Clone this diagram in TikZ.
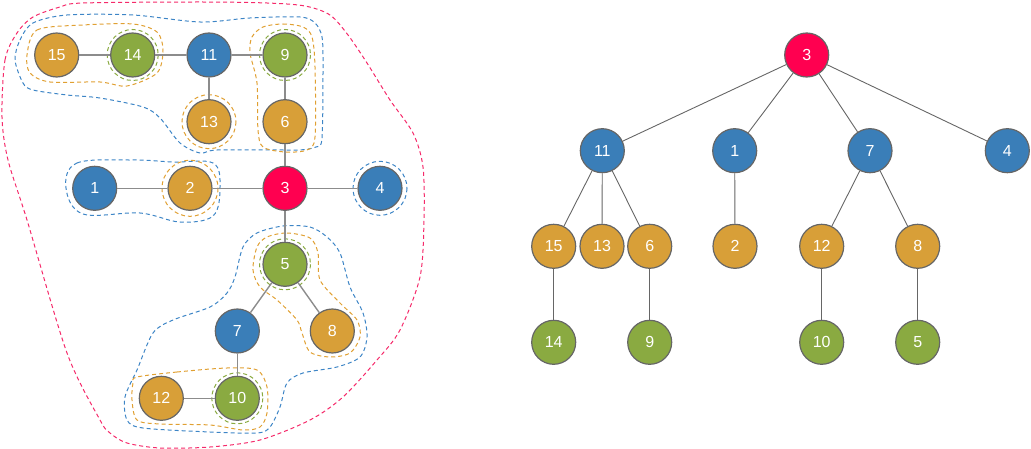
\documentclass[tikz,border=0pt]{standalone}
\usepackage{fontspec}
\setmainfont{Liberation Sans}
\definecolor{nblue}{HTML}{3A7EB8}
\definecolor{norange}{HTML}{D89F38}
\definecolor{ngreen}{HTML}{8AAA41}
\definecolor{nred}{HTML}{FF0050}
\definecolor{nborder}{HTML}{666666}
\definecolor{dblue}{HTML}{3D85C6}
\definecolor{dorange}{HTML}{E0A032}
\definecolor{dgreen}{HTML}{8AAA41}
\definecolor{dred}{HTML}{F52A6A}
\begin{document}
\begin{tikzpicture}[x=1pt,y=-1pt,
  vtx/.style={circle,draw=nborder,line width=1.2pt,minimum size=44pt,inner sep=0pt,text=white,font=\fontsize{16}{16}\selectfont},
  bv/.style={vtx,fill=nblue},
  ov/.style={vtx,fill=norange},
  gv/.style={vtx,fill=ngreen},
  rv/.style={vtx,fill=nred},
  ge/.style={draw=gray!90,line width=1.4pt},
  te/.style={draw=nborder,line width=0.9pt},
  dsh/.style={line width=1pt,dash pattern=on 4pt off 3pt},
  cred/.style={dsh,draw=dred},
  cblue/.style={dsh,draw=dblue},
  corange/.style={dsh,draw=dorange},
  cgreen/.style={dsh,draw=dgreen}]
\useasboundingbox (0,0) rectangle (1031,449);
% contours
\draw[cred] plot[smooth cycle,tension=0.5] coordinates {(2,117) (5,60) (17,33) (33,17) (60,7) (83,3) (200,2) (267,3) (305,6) (330,15) (348,35) (367,63) (390,100) (413,133) (423,167) (424,220) (420,277) (400,330) (377,360) (343,397) (310,420) (260,440) (210,447) (160,448) (127,443) (110,433) (100,420) (67,353) (27,220) (8,160)};
\draw[cblue] plot[smooth cycle,tension=0.5] coordinates {(15,60) (20,40) (33,23) (67,15) (133,15) (200,22) (250,18) (300,17) (315,23) (322,37) (323,67) (322,138) (316,147) (300,150) (283,150) (217,150) (200,153) (180,143) (160,118) (143,107) (100,98) (67,95) (33,90) (23,83)};
\draw[cblue] plot[smooth cycle,tension=0.6] coordinates {(66,188) (77,163) (133,160) (173,162) (213,163) (220,187) (213,216) (180,222) (140,213) (83,214)};
\draw[cblue] (380,188.3) circle[radius=27];
\draw[cblue] plot[smooth cycle,tension=0.5] coordinates {(283,226) (310,227) (327,237) (340,253) (350,287) (363,313) (367,337) (360,357) (337,367) (303,373) (287,383) (280,407) (270,427) (257,433) (210,432) (143,428) (127,420) (125,397) (137,370) (153,333) (173,320) (210,307) (227,293) (235,277) (243,247) (257,233)};
\draw[corange] plot[smooth cycle,tension=0.5] coordinates {(27,55) (37,30) (83,25) (133,24) (157,32) (163,50) (157,73) (127,86) (100,82) (50,82) (30,73)};
\draw[corange] (209,121.7) circle[radius=27];
\draw[corange] plot[smooth cycle,tension=0.5] coordinates {(263,27) (283,24) (303,27) (312,37) (315,67) (315,137) (307,150) (285,152) (263,147) (258,130) (257,83) (250,53) (252,37)};
\draw[corange] (190,188.3) circle[radius=28];
\draw[corange] plot[smooth cycle,tension=0.5] coordinates {(267,237) (287,233) (310,238) (318,253) (320,280) (340,303) (357,320) (360,337) (350,353) (330,357) (310,352) (302,333) (297,320) (277,300) (260,287) (253,270) (257,247)};
\draw[corange] plot[smooth cycle,tension=0.5] coordinates {(137,377) (177,372) (227,368) (257,370) (267,387) (267,413) (260,427) (243,430) (210,425) (160,424) (137,420) (132,400) (133,383)};
\draw[cgreen] (132.7,55) circle[radius=25.5];
\draw[cgreen] (285,55) circle[radius=25.5];
\draw[cgreen] (285,264.3) circle[radius=25.5];
\draw[cgreen] (237.3,398.3) circle[radius=25.5];
% left graph
\node[ov] (a15) at (56.7,55) {15};
\node[gv] (a14) at (132.7,55) {14};
\node[bv] (a11) at (209,55) {11};
\node[gv] (a9) at (285,55) {9};
\node[ov] (a13) at (209,121.7) {13};
\node[ov] (a6) at (285,121.7) {6};
\node[bv] (a1) at (94.7,188.3) {1};
\node[ov] (a2) at (190,188.3) {2};
\node[rv] (a3) at (285,188.3) {3};
\node[bv] (a4) at (380,188.3) {4};
\node[gv] (a5) at (285,264.3) {5};
\node[bv] (a7) at (237.3,331) {7};
\node[ov] (a8) at (332.3,331) {8};
\node[ov] (a12) at (161.3,398.3) {12};
\node[gv] (a10) at (237.3,398.3) {10};
\foreach \u/\v in {a15/a14,a14/a11,a11/a9,a11/a13,a9/a6,a6/a3,a1/a2,a2/a3,a3/a4,a3/a5,a5/a7,a5/a8,a7/a10,a12/a10}
  \draw[ge] (\u) -- (\v);
% right tree
\node[rv] (b3) at (806.7,55) {3};
\node[bv] (b11) at (602.3,150.7) {11};
\node[bv] (b1) at (734.7,150.7) {1};
\node[bv] (b7) at (870,150.7) {7};
\node[bv] (b4) at (1007.3,150.7) {4};
\node[ov] (b15) at (553.7,246.3) {15};
\node[ov] (b13) at (602,246.3) {13};
\node[ov] (b6) at (649.7,246.3) {6};
\node[ov] (b2) at (735,246.3) {2};
\node[ov] (b12) at (821.7,246.3) {12};
\node[ov] (b8) at (917.7,246.3) {8};
\node[gv] (b14) at (553.7,342.3) {14};
\node[gv] (b9) at (649.7,342.3) {9};
\node[gv] (b10) at (821.7,342.3) {10};
\node[gv] (b5) at (917.7,342.3) {5};
\foreach \u/\v in {b3/b11,b3/b1,b3/b7,b3/b4,b11/b15,b11/b13,b11/b6,b1/b2,b7/b12,b7/b8,b15/b14,b6/b9,b12/b10,b8/b5}
  \draw[te] (\u) -- (\v);
\end{tikzpicture}
\end{document}
